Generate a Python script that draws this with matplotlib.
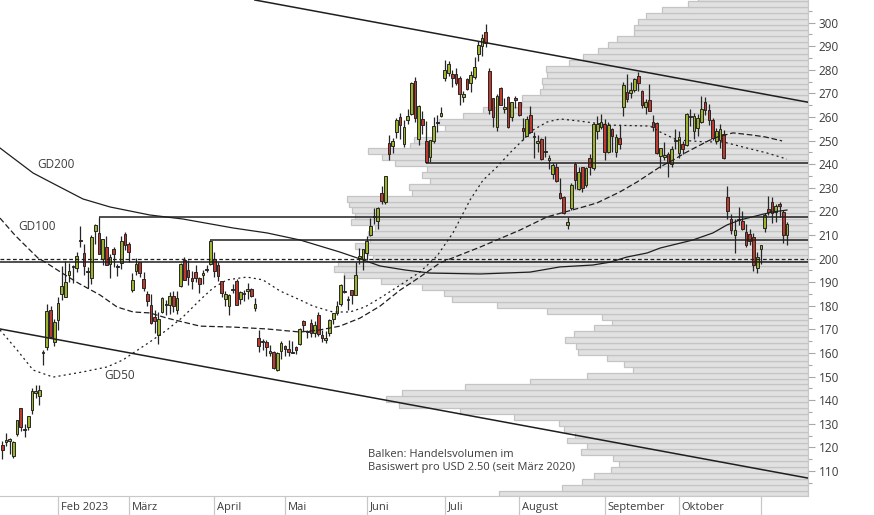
import matplotlib
matplotlib.use("Agg")
import matplotlib.pyplot as plt
import numpy as np

plt.rcParams['font.family'] = ['Open Sans', 'DejaVu Sans']

# daily candles, first bar = 10 Jan 2023 (trading days)
opens = [121.07, 122.09, 122.56, 116.55, 125.70, 136.56, 127.26, 128.68, 135.87, 143.00,
         141.91, 159.97, 162.43, 178.05, 164.57, 173.89, 185.11, 183.95, 193.01, 196.43,
         196.10, 207.78, 202.23, 194.42, 191.94, 211.76, 210.78, 199.99, 204.99, 197.93,
         203.91, 196.33, 198.00, 210.59, 206.21, 186.74, 194.80, 198.54, 191.38, 185.04,
         180.25, 175.13, 167.46, 177.31, 180.80, 180.37, 184.00, 178.08, 188.28, 199.30,
         195.26, 191.60, 194.15, 192.00, 193.13, 195.58, 197.53, 199.91, 197.32, 190.52,
         183.08, 179.94, 186.69, 190.74, 182.95, 185.36, 186.32, 187.15, 179.10, 166.17,
         164.80, 164.65, 159.82, 160.29, 152.64, 160.90, 163.17, 161.88, 160.01, 162.71,
         163.97, 173.72, 168.95, 172.55, 168.70, 176.07, 167.66, 165.65, 168.41, 174.22,
         177.17, 180.70, 186.20, 182.56, 186.54, 184.62, 200.10, 199.78, 202.59, 210.15,
         217.80, 216.14, 228.00, 224.22, 249.07, 247.94, 253.51, 260.17, 248.40, 258.92,
         261.50, 275.13, 250.77, 259.29, 250.07, 243.24, 249.70, 258.03, 260.60, 276.49,
         278.82, 278.09, 278.43, 276.47, 268.65, 276.33, 274.59, 277.01, 286.63, 290.15,
         296.04, 279.56, 268.00, 255.85, 272.38, 263.25, 268.31, 259.86, 267.48, 266.26,
         255.57, 252.04, 260.97, 251.45, 248.82, 250.87, 245.40, 241.77, 235.70, 238.73,
         228.02, 226.06, 214.12, 221.55, 240.25, 229.34, 238.66, 231.31, 242.58, 238.58,
         254.20, 255.98, 257.26, 245.00, 255.14, 245.07, 251.22, 264.27, 270.76, 270.07,
         271.32, 277.55, 271.16, 264.35, 267.04, 257.85, 257.40, 243.38, 242.98, 244.26,
         240.02, 250.00, 244.81, 248.61, 248.14, 260.00, 253.98, 255.31, 257.75, 266.20,
         262.92, 258.90, 250.05, 250.10, 252.70, 225.95, 217.01, 210.00, 216.50, 215.88,
         211.32, 210.60, 209.28, 196.12, 204.04, 212.97, 221.15, 223.98, 219.98, 223.15,
         219.75, 210.03]
highs = [122.76, 125.95, 124.13, 122.63, 131.70, 136.68, 129.99, 133.51, 145.38, 146.50,
         146.41, 161.42, 180.68, 179.77, 174.30, 183.81, 196.76, 199.00, 198.17, 197.50,
         203.00, 214.00, 206.20, 196.30, 209.82, 214.66, 217.65, 208.44, 209.71, 201.99,
         205.14, 197.67, 209.42, 211.23, 207.20, 193.75, 200.48, 198.60, 194.20, 186.50,
         185.18, 178.29, 177.35, 183.80, 182.34, 185.81, 186.22, 186.44, 198.00, 200.66,
         199.31, 194.79, 197.39, 192.35, 195.29, 197.33, 207.79, 202.69, 198.74, 190.68,
         186.39, 185.10, 189.19, 191.58, 186.50, 186.57, 189.69, 187.69, 183.50, 169.70,
         166.00, 165.65, 163.47, 160.67, 160.48, 165.00, 163.28, 165.49, 165.00, 162.95,
         170.79, 173.80, 169.82, 174.43, 173.57, 177.38, 169.76, 169.52, 174.50, 177.06,
         181.95, 189.32, 192.96, 184.22, 186.78, 198.60, 204.48, 203.95, 209.80, 217.25,
         221.29, 221.91, 230.83, 235.23, 252.42, 250.97, 259.68, 261.57, 258.95, 263.60,
         274.75, 276.99, 265.00, 262.45, 258.37, 250.39, 259.88, 260.74, 264.45, 284.25,
         283.85, 279.97, 280.78, 277.52, 270.90, 276.52, 279.45, 285.30, 292.23, 295.26,
         299.29, 280.93, 268.00, 269.85, 272.90, 268.04, 269.13, 266.25, 269.08, 266.47,
         259.52, 260.49, 264.77, 253.65, 252.25, 251.10, 251.80, 243.79, 240.66, 240.50,
         233.97, 226.74, 217.58, 232.13, 240.82, 238.98, 238.92, 239.00, 244.38, 257.48,
         260.51, 261.18, 259.08, 258.00, 255.39, 252.81, 256.52, 274.85, 278.39, 274.98,
         276.71, 278.98, 271.44, 267.85, 273.93, 260.86, 257.79, 247.10, 249.55, 245.33,
         247.55, 254.77, 254.28, 250.02, 261.86, 263.60, 261.65, 261.36, 268.94, 268.60,
         265.41, 259.60, 255.40, 257.18, 254.63, 230.61, 218.86, 216.98, 222.05, 220.10,
         214.80, 212.41, 210.88, 202.80, 205.99, 219.20, 226.37, 226.32, 223.12, 224.15,
         220.80, 215.38]
lows = [114.92, 120.51, 117.00, 115.60, 125.02, 127.01, 124.31, 127.35, 134.27, 141.10,
        138.07, 154.76, 161.17, 166.50, 162.78, 169.93, 182.61, 183.69, 189.92, 189.55,
        194.31, 204.77, 192.89, 187.61, 189.44, 206.11, 201.84, 197.50, 197.22, 191.78,
        196.33, 192.80, 195.68, 203.75, 198.52, 186.01, 192.88, 192.30, 186.10, 180.00,
        172.51, 168.44, 163.91, 177.14, 176.03, 176.69, 177.33, 176.35, 188.04, 190.95,
        188.65, 187.15, 189.94, 185.43, 189.44, 194.42, 197.20, 192.20, 190.32, 183.76,
        179.74, 176.11, 185.65, 180.31, 180.94, 182.01, 182.69, 183.58, 177.65, 160.56,
        161.32, 158.61, 158.75, 153.14, 152.37, 157.32, 158.83, 158.93, 159.91, 159.65,
        163.51, 169.19, 166.56, 166.68, 166.79, 167.23, 164.55, 164.35, 167.19, 172.45,
        176.31, 180.11, 185.26, 178.22, 180.58, 184.53, 197.53, 195.12, 199.37, 209.75,
        214.52, 212.53, 223.20, 223.01, 242.02, 244.59, 251.34, 250.50, 247.29, 257.21,
        261.07, 257.78, 248.25, 252.80, 240.70, 240.85, 248.89, 253.61, 259.89, 275.11,
        277.60, 272.88, 273.77, 265.10, 266.37, 271.46, 270.60, 276.31, 283.57, 286.01,
        289.52, 261.20, 255.80, 254.12, 265.00, 261.75, 255.30, 258.34, 263.78, 260.25,
        250.49, 252.00, 253.11, 242.76, 245.32, 241.90, 243.00, 238.02, 233.75, 232.61,
        225.38, 218.83, 212.36, 220.58, 229.55, 229.29, 228.18, 230.35, 235.35, 237.77,
        250.59, 255.05, 242.01, 244.86, 245.06, 243.27, 246.67, 260.61, 266.60, 268.10,
        270.42, 271.00, 263.76, 261.20, 262.46, 254.21, 244.48, 238.31, 241.66, 234.58,
        238.65, 246.35, 242.62, 244.45, 247.60, 256.25, 250.65, 252.05, 257.65, 260.90,
        256.63, 250.22, 248.48, 247.08, 242.08, 216.78, 210.42, 202.51, 214.11, 212.20,
        204.88, 205.77, 194.67, 194.07, 197.85, 211.45, 218.40, 215.00, 215.72, 217.64,
        206.68, 205.69]
closes = [118.85, 123.22, 123.56, 122.40, 131.49, 128.78, 127.17, 133.42, 143.75, 143.89,
          144.43, 160.27, 177.90, 166.66, 173.22, 181.41, 188.27, 189.98, 194.76, 196.81,
          201.29, 207.32, 196.89, 194.64, 209.25, 214.24, 202.04, 208.31, 197.37, 200.86,
          202.07, 196.88, 207.63, 205.71, 202.77, 190.90, 197.79, 193.81, 187.71, 182.00,
          172.92, 173.44, 174.48, 183.26, 180.45, 184.13, 180.13, 183.25, 197.58, 191.15,
          192.22, 190.41, 191.81, 189.19, 193.88, 195.28, 207.46, 194.77, 192.58, 185.52,
          185.06, 184.51, 186.79, 180.54, 185.90, 185.00, 187.04, 184.31, 180.59, 162.99,
          165.08, 162.55, 160.67, 153.75, 160.19, 164.31, 161.83, 160.31, 160.61, 161.20,
          170.06, 171.79, 169.15, 168.54, 172.08, 167.98, 166.35, 166.52, 173.86, 176.89,
          180.14, 188.87, 185.77, 182.90, 184.47, 193.17, 201.16, 203.93, 207.52, 213.97,
          217.61, 221.31, 224.57, 234.86, 244.40, 249.83, 258.71, 256.79, 255.90, 260.54,
          274.45, 259.46, 264.61, 256.60, 241.05, 250.21, 256.24, 257.50, 261.77, 279.82,
          282.48, 276.54, 274.43, 269.61, 269.79, 271.99, 277.90, 281.38, 290.38, 293.34,
          291.26, 262.90, 260.02, 269.06, 265.28, 264.35, 255.71, 266.44, 267.43, 261.07,
          254.11, 259.32, 253.86, 251.45, 249.70, 242.19, 245.34, 242.65, 239.76, 232.96,
          225.60, 219.22, 215.49, 231.28, 233.19, 236.86, 230.04, 238.59, 238.82, 257.18,
          256.90, 258.08, 245.01, 256.49, 251.92, 251.49, 248.50, 273.58, 267.48, 271.30,
          276.04, 274.39, 265.28, 266.50, 262.59, 255.70, 244.88, 246.99, 244.12, 240.50,
          246.38, 250.22, 251.60, 246.53, 261.16, 260.05, 260.53, 259.67, 263.62, 262.99,
          258.87, 251.12, 253.92, 254.85, 242.68, 220.11, 211.99, 212.08, 216.52, 212.42,
          205.76, 207.30, 197.36, 200.84, 205.66, 218.51, 219.96, 219.27, 222.18, 222.11,
          209.98, 214.65]

# first trading day of each month (bar index)
month_pos = [15, 34, 57, 76, 98, 119, 139, 162, 182, 204]
month_labels = ["Feb 2023", "März", "April", "Mai", "Juni", "Juli", "August",
                "September", "Oktober", ""]

# volume profile: bins of USD 2.50, lowest bin starts at 99.2
profile_start = 99.2
profile_step = 2.5
profile_vol = [309, 246, 226, 214, 197, 189, 195, 227, 221, 241,
               233, 244, 249, 294, 348, 409, 422, 406, 343, 278,
               221, 175, 184, 201, 230, 232, 243, 234, 214, 196,
               206, 261, 311, 356, 364, 386, 427, 464, 474, 470,
               435, 440, 453, 438, 440, 433, 457, 453, 456, 459,
               461, 396, 399, 378, 386, 381, 413, 426, 440, 398,
               394, 373, 363, 369, 345, 325, 286, 286, 268, 265,
               266, 261, 262, 239, 225, 210, 200, 191, 174, 174,
               170, 162, 146, 120, 110]

# moving averages (bar index, price)
gd50_x = [-0.6, 4.0, 8.3, 13.7, 21.7, 28.2, 32.5, 35.2, 39.7, 44.3, 48.6, 53.2, 56.7,
          60.4, 65.8, 70.1, 74.7, 80.1, 83.6, 88.9, 93.5, 97.5, 101.6, 107.0, 112.3,
          116.9, 121.2, 125.8, 129.3, 133.0, 136.5, 139.2, 142.7, 146.5, 150.0, 155.3,
          163.4, 174.2, 176.9, 181.4, 188.9, 193.8, 200.2, 205.6, 211.0]
gd50_y = [169.8, 161.3, 152.8, 149.8, 152.0, 154.1, 157.1, 160.0, 164.7, 169.8, 175.3,
          182.5, 187.6, 191.0, 192.2, 191.0, 186.3, 182.5, 179.9, 177.4, 177.4, 179.5,
          183.3, 188.8, 194.3, 201.1, 210.9, 224.9, 233.3, 238.8, 244.8, 249.0, 254.5,
          257.9, 259.2, 258.3, 256.6, 256.2, 253.7, 250.3, 249.5, 249.5, 246.9, 244.8,
          242.2]
gd100_x = [-0.6, 3.4, 5.3, 9.6, 11.5, 16.1, 20.4, 26.3, 30.9, 35.2, 39.7, 44.3, 53.2,
           62.1, 71.2, 80.1, 85.4, 90.8, 96.2, 101.6, 107.0, 112.3, 117.7, 128.5, 139.2,
           146.5, 155.3, 159.9, 166.1, 170.7, 176.9, 180.4, 183.6, 189.8, 192.4, 196.5,
           201.6, 205.1, 209.7]
gd100_y = [217.2, 210.0, 207.0, 200.3, 198.6, 193.9, 189.7, 184.6, 179.5, 177.4, 177.0,
           174.8, 171.4, 171.0, 170.2, 168.9, 169.8, 171.4, 174.8, 179.9, 186.7, 192.2,
           198.2, 204.9, 212.1, 217.7, 221.5, 223.6, 228.3, 232.5, 238.9, 241.8, 244.8,
           249.9, 251.6, 253.3, 252.4, 251.6, 249.9]
gd200_x = [-0.6, 8.3, 12.9, 21.7, 29.0, 39.7, 48.6, 62.1, 71.2, 80.1, 90.8, 96.2, 101.6,
           108.3, 115.0, 128.5, 141.9, 150.0, 158.8, 163.4, 168.0, 173.4, 176.9, 185.7,
           191.1, 194.9, 198.4, 203.7, 207.2, 211.0]
gd200_y = [246.9, 236.3, 232.5, 225.3, 221.9, 218.5, 216.8, 213.0, 210.9, 207.9, 202.8,
           199.9, 196.9, 195.2, 193.9, 193.5, 194.3, 196.5, 197.3, 198.5, 200.7, 202.4,
           204.5, 207.9, 210.9, 214.3, 216.4, 218.5, 219.8, 220.6]

# support / resistance lines (start bar, price)
level_start = [26, 56, 114]
level_price = [217.65, 207.79, 240.70]
full_solid = 198.45
full_dashed = 199.75

# trend channel, two points each (bar index, price)
upper_trend = [(68.0, 309.6), (216.66, 266.3)]
lower_trend = [(-0.59, 170.2), (216.66, 107.0)]

x_min, x_max = -0.59, 216.66
y_min, y_max = 99.41, 309.62

line_col = '#1f1f1f'
text_col = '#3c3c3c'
grid_col = '#c8c8c8'

fig = plt.figure(figsize=(8.74, 5.15), dpi=100)
ax = fig.add_axes([0, 19 / 515, 808 / 874, 496 / 515])

# volume profile on a twin axis, bars growing from the right edge
ax_vol = ax.twiny()
centers = profile_start + profile_step * (np.arange(len(profile_vol)) + 0.5)
ax_vol.barh(centers, profile_vol, height=profile_step, color='#e1e1e1',
            edgecolor='#c4c4c4', linewidth=0.9)
ax_vol.set_xlim(808, 0)
ax_vol.axis('off')
ax.set_zorder(ax_vol.get_zorder() + 1)
ax.patch.set_visible(False)

# candles
idx = np.arange(len(closes))
o = np.array(opens)
c = np.array(closes)
up = c >= o
body_col = np.where(up, '#9db32b', '#bf3a2c')
bottoms = np.minimum(o, c)
heights = np.maximum(np.abs(c - o), 0.45)
ax.vlines(idx, lows, highs, color='#262626', linewidth=0.9, zorder=3)
ax.bar(idx, heights, bottom=bottoms, width=0.72, color=body_col,
       edgecolor='#262626', linewidth=0.7, zorder=4)

# moving averages
ax.plot(gd200_x, gd200_y, color=line_col, linewidth=0.9, zorder=5)
ax.plot(gd100_x, gd100_y, color=line_col, linewidth=0.9, linestyle=(0, (4.5, 2.2)), zorder=5)
ax.plot(gd50_x, gd50_y, color=line_col, linewidth=0.9, linestyle=(0, (1.6, 2.6)), zorder=5)

# horizontal levels
ax.axhline(full_solid, color=line_col, linewidth=1.1, zorder=5)
ax.axhline(full_dashed, color=line_col, linewidth=0.9, linestyle=(0, (3, 2)), zorder=5)
ax.hlines(level_price, level_start, x_max, color=line_col, linewidth=1.1, zorder=5)

# trend channel
ax.axline(upper_trend[0], upper_trend[1], color=line_col, linewidth=1.1, zorder=5)
ax.axline(lower_trend[0], lower_trend[1], color=line_col, linewidth=1.1, zorder=5)

# labels inside the chart
ax.text(9.4, 239.7, "GD200", fontsize=8.5, color=text_col, va='center', ha='left')
ax.text(4.3, 213.8, "GD100", fontsize=8.5, color=text_col, va='center', ha='left')
ax.text(27.4, 150.3, "GD50", fontsize=8.5, color=text_col, va='center', ha='left')
ax.text(98.3, 114.2, "Balken: Handelsvolumen im\nBasiswert pro USD 2.50 (seit März 2020)",
        fontsize=8, color=text_col, va='center', ha='left', linespacing=1.3)

ax.set_xlim(x_min, x_max)
ax.set_ylim(y_min, y_max)

# y axis on the right
ax.yaxis.tick_right()
ax.set_yticks(range(110, 301, 10))
ax.set_yticks(range(105, 306, 10), minor=True)
ax.tick_params(axis='y', which='major', length=5, width=0.8, color='#a8a8a8',
               labelcolor=text_col, labelsize=8.5, pad=2.5)
ax.tick_params(axis='y', which='minor', length=3, width=0.8, color='#a8a8a8')

# month ticks, label right of tick
ax.set_xticks(month_pos)
ax.set_xticklabels([])
ax.tick_params(axis='x', which='major', length=14, width=0.9, color=grid_col, direction='out')
for pos, lab in zip(month_pos, month_labels):
    ax.annotate(lab, xy=(pos, 0), xycoords=('data', 'axes fraction'),
                xytext=(2, -8), textcoords='offset points',
                fontsize=8, color=text_col, ha='left', va='center')

for side in ['top', 'left']:
    ax.spines[side].set_visible(False)
ax.spines['right'].set_color(grid_col)
ax.spines['bottom'].set_color(grid_col)

fig.savefig('out.png', dpi=100)
